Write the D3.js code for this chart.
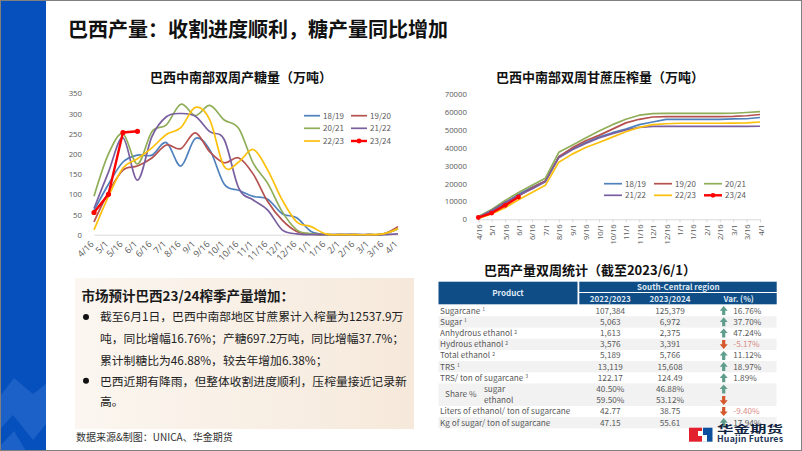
<!DOCTYPE html>
<html>
<head>
<meta charset="utf-8">
<script src="https://cdnjs.cloudflare.com/ajax/libs/d3/7.8.5/d3.min.js"></script>
<style>
html, body { margin: 0; padding: 0; background: #fff; }
svg { display: block; }
text { font-family: "Noto Sans CJK SC", "Noto Sans", sans-serif; }
.tick text { font-family: "Open Sans", sans-serif; fill: #595959; }
</style>
</head>
<body>
<svg id="slide" width="802" height="451"></svg>
<script>
// dates shared by both charts
var dates = ["4/16","5/1","5/16","6/1","6/16","7/1","8/16","9/1","9/16","10/1","10/16","11/1","11/16","12/1","12/16","1/1","1/16","2/1","2/16","3/1","3/16","4/1"];
var seasons = ["18/19","19/20","20/21","21/22","22/23","23/24"];
var seasonColors = ["#4f81bd","#b5514f","#8fae57","#7a5fa0","#fcc00d","#ff0000"];

// sugar output, 10k tons
var sugar1819 = [60,125,180,197,197,228,170,238,210,125,110,95,88,52,42,8,1,0,0,0,1,15];
var sugar1920 = [32,105,160,170,190,222,213,252,205,178,190,150,82,36,8,2,0,0,0,0,2,20];
var sugar2021 = [95,200,250,175,255,272,323,295,320,284,263,177,127,57,12,2,0,0,0,0,2,15];
var sugar2122 = [65,155,240,135,243,292,300,293,255,235,115,86,61,12,2,0,0,0,0,0,0,2];
var sugar2223 = [12,95,165,188,215,248,265,315,284,168,180,211,160,86,32,20,2,0,0,0,2,15];
var sugar2324 = [55,100,253,256];

// cane crush, 10k tons
var cane1819 = [1000,4500,9000,14000,18000,21500,35000,39500,43000,46000,48500,50500,53000,54500,56000,56000,56000,56000,56000,56200,56300,57000];
var cane1920 = [800,4000,8500,13000,17500,21500,35000,40000,44000,47000,50500,54000,56000,57300,57500,57500,57500,57500,57500,57600,58000,58700];
var cane2021 = [1500,5500,10500,15000,19000,23000,37500,41500,45500,49500,53000,56000,58300,59200,59300,59300,59300,59300,59300,59400,59800,60300];
var cane2122 = [1000,5000,9500,13500,17000,21000,34500,39000,42500,45500,48000,50000,51500,52000,52000,52000,52000,52000,52000,52000,52000,52100];
var cane2223 = [500,3000,6500,11000,15000,19000,32000,36500,40200,43000,46000,49000,51500,53000,53500,53800,53800,53800,53800,53900,54000,54500];
var cane2324 = [1000,3500,7800,12500];

var sugarTicks = [0,50,100,150,200,250,300,350];
var caneTicks = [0,10000,20000,30000,40000,50000,60000,70000];

// table
var rowNames = ["Sugarcane","Sugar","Anhydrous ethanol","Hydrous ethanol","Total ethanol","TRS","TRS/ ton of sugarcane","sugar","ethanol","Liters of ethanol/ ton of sugarcane","Kg of sugar/ ton of sugarcane"];
var rowNotes = ["1","1","2","2","2","1","3","","","",""];
var col2223 = ["107,384","5,063","1,613","3,576","5,189","13,119","122.17","40.50%","59.50%","42.77","47.15"];
var col2324 = ["125,379","6,972","2,375","3,391","5,766","15,608","124.49","46.88%","53.12%","38.75","55.61"];
var colVar = ["16.76%","37.70%","47.24%","-5.17%","11.12%","18.97%","1.89%","","","-9.40%","17.94%"];
var colDir = [1,1,1,-1,1,1,1,1,-1,-1,1];
var rowBand = [0,1,0,1,0,1,0,1,1,0,1];

var bullet1 = ["截至6月1日，巴西中南部地区甘蔗累计入榨量为12537.9万","吨，同比增幅16.76%；产糖697.2万吨，同比增幅37.7%；","累计制糖比为46.88%，较去年增加6.38%；"];
var bullet2 = ["巴西近期有降雨，但整体收割进度顺利，压榨量接近记录新","高。"];

var svg = d3.select("#slide");
var defs = svg.append("defs");

// slide background + left band
svg.append("rect").attr("width", 802).attr("height", 451).attr("fill", "#fff");
svg.append("rect").attr("width", 46).attr("height", 451).attr("fill", "#0550bd");
svg.append("path").attr("d", "M1,395 L14,378 L33,394 L46,384 L46,424 L33,440 L13,415 L1,428 Z").attr("fill", "#1c61c8");
svg.append("path").attr("d", "M1,445 L14,431 L26,451 L1,451 Z").attr("fill", "#1c61c8");

// page title
svg.append("text").attr("x", 68).attr("y", 37).attr("font-size", 20).attr("font-weight", 700).attr("fill", "#111")
	.text("巴西产量：收割进度顺利，糖产量同比增加");

function chartTitle(txt, cx, cy) {
	svg.append("text").attr("x", cx).attr("y", cy).attr("text-anchor", "middle")
		.attr("font-size", 13).attr("font-weight", 700).attr("fill", "#111").text(txt);
}
chartTitle("巴西中南部双周产糖量（万吨）", 241, 82);
chartTitle("巴西中南部双周甘蔗压榨量（万吨）", 600, 82);
chartTitle("巴西产量双周统计（截至2023/6/1）", 590, 275);

// line chart, used twice
function lineChart(opt) {
	var x = d3.scalePoint().domain(dates).range(opt.xr);
	var y = d3.scaleLinear().domain(opt.yd).range(opt.yr);
	var g = svg.append("g");

	var ax = g.append("g").attr("transform", "translate(0," + opt.yr[0] + ")")
		.call(d3.axisBottom(x).tickSize(opt.xTick).tickPadding(3));
	ax.select(".domain").attr("stroke", "#d9d9d9");
	ax.selectAll(".tick line").attr("stroke", "#d9d9d9");
	ax.selectAll(".tick text").attr("font-size", opt.xFont).attr("text-anchor", "end")
		.attr("transform", "rotate(" + opt.rot + ")")
		.attr("dx", opt.rot == -90 ? "-5" : "-7").attr("dy", opt.rot == -90 ? "-3" : "4");

	var ay = g.append("g").attr("transform", "translate(" + opt.axisX + ",0)")
		.call(d3.axisLeft(y).tickValues(opt.ticks).tickSize(0).tickPadding(0).tickFormat(d3.format("d")));
	ay.select(".domain").remove();
	ay.selectAll(".tick text").attr("font-size", 7.8);

	var line = d3.line()
		.x(function(d, i) { return x(dates[i]); })
		.y(function(d) { return y(d); })
		.curve(opt.curve);
	var straight = d3.line()
		.x(function(d, i) { return x(dates[i]); })
		.y(function(d) { return y(d); });

	opt.series.forEach(function(s, i) {
		g.append("path").attr("d", i == 5 ? straight(s) : line(s)).attr("fill", "none")
			.attr("stroke", seasonColors[i]).attr("stroke-width", i == 5 ? 2.4 : 1.7)
			.attr("stroke-linejoin", "round");
	});
	g.selectAll(".dot").data(opt.series[5]).enter().append("circle")
		.attr("class", "dot")
		.attr("cx", function(d, i) { return x(dates[i]); })
		.attr("cy", function(d) { return y(d); })
		.attr("r", opt.dot).attr("fill", "#ff0000");

	// legend
	seasons.forEach(function(s, i) {
		var col = i % opt.legCols, row = Math.floor(i / opt.legCols);
		var lx = opt.legX[col], ly = opt.legY[row];
		g.append("line").attr("x1", lx).attr("x2", lx + opt.legLen).attr("y1", ly).attr("y2", ly)
			.attr("stroke", seasonColors[i]).attr("stroke-width", i == 5 ? 2.4 : 1.7);
		if (i == 5) g.append("circle").attr("cx", lx + opt.legLen / 2).attr("cy", ly).attr("r", 2.4).attr("fill", "#ff0000");
		g.append("text").attr("x", lx + opt.legLen + 3).attr("y", ly + 3)
			.attr("font-size", 8).attr("font-family", "Open Sans").attr("fill", "#595959").text(s);
	});
}

lineChart({
	xr: [94, 398], yr: [234.7, 93.3], yd: [0, 350], ticks: sugarTicks, axisX: 82,
	xTick: 0, rot: -45, dot: 2.6, xFont: 9, curve: d3.curveCatmullRom.alpha(0),
	series: [sugar1819, sugar1920, sugar2021, sugar2122, sugar2223, sugar2324],
	legCols: 2, legX: [304, 351], legY: [115.7, 128.3, 141], legLen: 16
});
lineChart({
	xr: [478.3, 760], yr: [219.3, 94.3], yd: [0, 70000], ticks: caneTicks, axisX: 467,
	xTick: 3, rot: -90, dot: 2.4, xFont: 7.6, curve: d3.curveLinear,
	series: [cane1819, cane1920, cane2021, cane2122, cane2223, cane2324],
	legCols: 3, legX: [604, 654, 704], legY: [183.7, 195.3], legLen: 18
});

// text box
var grad = defs.append("linearGradient").attr("id", "boxFill");
grad.append("stop").attr("offset", "0").attr("stop-color", "#fbf6f0");
grad.append("stop").attr("offset", "1").attr("stop-color", "#f6e9db");
svg.append("rect").attr("x", 75).attr("y", 278).attr("width", 339).attr("height", 151).attr("fill", "url(#boxFill)");
svg.append("text").attr("x", 81.5).attr("y", 300.5).attr("font-size", 13.5).attr("font-weight", 700).attr("fill", "#1a1a1a")
	.text("市场预计巴西23/24榨季产量增加：");
function bodyLines(lines, ys) {
	lines.forEach(function(t, i) {
		svg.append("text").attr("x", 100).attr("y", ys[i]).attr("font-size", 11.8).attr("fill", "#222").text(t);
	});
}
bodyLines(bullet1, [321.3, 343, 364.8]);
bodyLines(bullet2, [386, 405.5]);
[317, 380.7].forEach(function(cy) {
	svg.append("circle").attr("cx", 86).attr("cy", cy).attr("r", 3).attr("fill", "#111");
});
svg.append("text").attr("x", 76).attr("y", 441).attr("font-size", 10).attr("fill", "#333").text("数据来源&制图：UNICA、华金期货");

// table
var tableFont = "Open Sans";
var rowY = d3.scalePoint().domain(d3.range(rowNames.length)).range([310.7, 422.7]);
var tb = svg.append("g").attr("font-family", tableFont);
var navy = "#0f4d86";
tb.append("rect").attr("x", 438.5).attr("y", 281.7).attr("width", 139).attr("height", 22.6).attr("fill", navy);
tb.append("rect").attr("x", 579.3).attr("y", 281.7).attr("width", 197.4).attr("height", 10.3).attr("fill", navy);
tb.append("rect").attr("x", 579.3).attr("y", 293).attr("width", 197.4).attr("height", 11.3).attr("fill", navy);

function headText(t, cx, cy) {
	tb.append("text").attr("x", cx).attr("y", cy).attr("text-anchor", "middle").attr("font-family", tableFont)
		.attr("font-size", 8).attr("font-weight", 700).attr("fill", "#dfe8f2").text(t);
}
headText("Product", 508, 295.5);
headText("South-Central region", 678.3, 289.8);
headText("2022/2023", 610.3, 301.8);
headText("2023/2024", 670, 301.8);
headText("Var. (%)", 738.7, 301.8);

rowNames.forEach(function(name, i) {
	var cy = rowY(i);
	if (rowBand[i]) tb.append("rect").attr("x", 438.5).attr("y", cy - 5.7).attr("width", 338).attr("height", 11.4).attr("fill", "#f2f2f2");
});
rowNames.forEach(function(name, i) {
	var cy = rowY(i), base = cy + 2.9;
	var isShare = name == "sugar" || name == "ethanol";
	var lab = tb.append("text").attr("x", isShare ? 484 : 440).attr("y", base)
		.attr("font-family", tableFont).attr("font-size", 8.2).attr("fill", "#595959").text(name);
	if (rowNotes[i]) lab.append("tspan").attr("dx", 2).attr("dy", -2.5).attr("font-size", 5).text(rowNotes[i]);

	[[col2223, 610.3], [col2324, 670]].forEach(function(c) {
		tb.append("text").attr("x", c[1]).attr("y", base).attr("text-anchor", "middle")
			.attr("font-family", tableFont).attr("font-size", 8.2).attr("fill", "#595959").text(c[0][i]);
	});

	var up = colDir[i] > 0;
	// block arrow centred on the row
	tb.append("path")
		.attr("transform", "translate(723.7," + cy + ") scale(" + (up ? 1 : -1) + "," + (up ? 1 : -1) + ")")
		.attr("d", "M0,-4.6 L4,0 L1.6,0 L1.6,4.4 L-1.6,4.4 L-1.6,0 L-4,0 Z")
		.attr("fill", up ? "#5f9e8c" : "#d4582c");
	if (colVar[i]) tb.append("text").attr("x", 733.3).attr("y", base)
		.attr("font-family", tableFont).attr("font-size", 8.2)
		.attr("fill", up ? "#595959" : "#d98a86").text(colVar[i]);
});
tb.append("text").attr("x", 445).attr("y", 396.8).attr("font-family", tableFont).attr("font-size", 8.2).attr("fill", "#595959").text("Share %");

// logo
svg.append("rect").attr("x", 689).attr("y", 427.7).attr("width", 13).attr("height", 14).attr("fill", "#e3202e");
svg.append("rect").attr("x", 703).attr("y", 427.7).attr("width", 9.5).attr("height", 14).attr("fill", "#0c4f9e");
svg.append("path").attr("d", "M698,431 L702,431 L702,436 L698,436 Z M703,435 L707,435 L707,441.7 L703,441.7 Z").attr("fill", "#fff");
svg.append("text").attr("x", 717).attr("y", 433).attr("font-size", 10).attr("font-weight", 700).attr("fill", "#12233f")
	.attr("textLength", 66).attr("lengthAdjust", "spacingAndGlyphs").text("华金期货");
svg.append("text").attr("x", 717).attr("y", 442).attr("font-family", "Open Sans").attr("font-size", 8.8).attr("font-weight", 700)
	.attr("fill", "#1e3557").attr("textLength", 66).text("Huajin Futures");

// slide border
svg.append("rect").attr("x", 0.5).attr("y", 0.5).attr("width", 801).attr("height", 450).attr("fill", "none").attr("stroke", "#808080");
</script>
</body>
</html>
